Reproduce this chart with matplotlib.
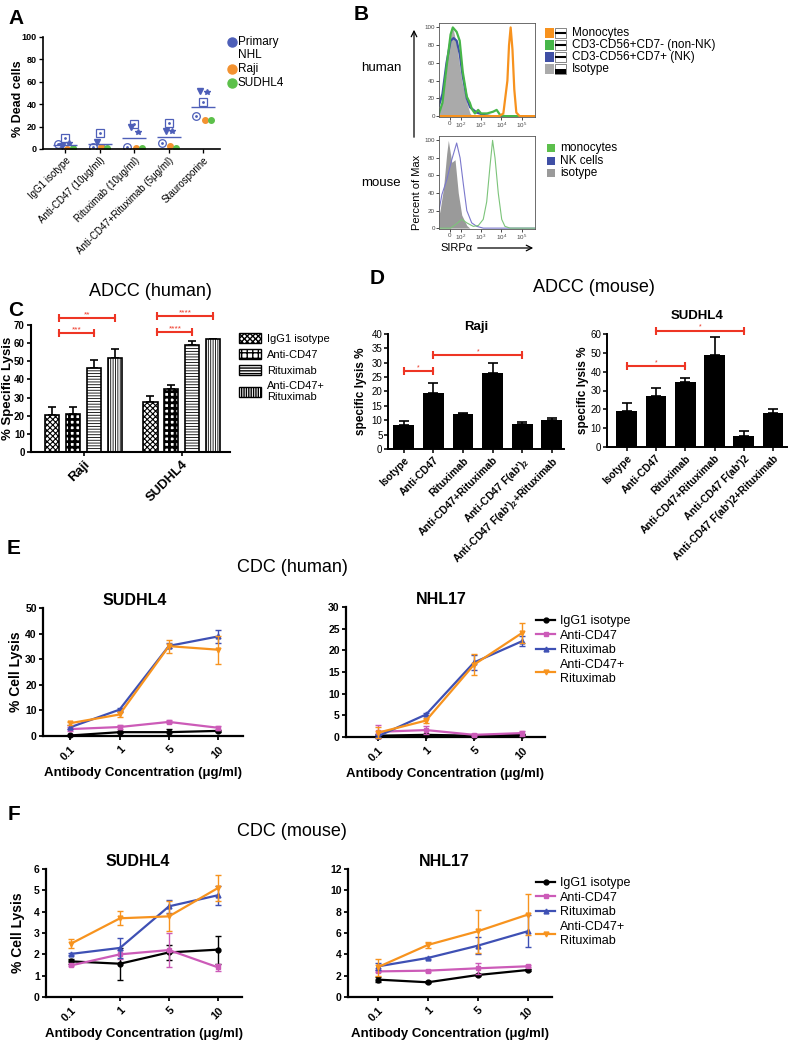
import numpy as np
import matplotlib
matplotlib.use('Agg')
import matplotlib.pyplot as plt
from matplotlib.patches import Rectangle
from matplotlib.lines import Line2D

plt.rcParams['font.family'] = ['Liberation Sans', 'DejaVu Sans']
plt.rcParams['mathtext.default'] = 'regular'

W, H = 794, 1050

# ---------------- data ----------------
# A: % dead cells
a_treatments = ['IgG1 isotype', 'Anti-CD47 (10μg/ml)', 'Rituximab (10μg/ml)',
                'Anti-CD47+Rituximab (5μg/ml)', 'Staurosporine']
a_nhl_square = [9.5, 14.3, 22.0, 23.0, 41.7]
a_nhl_tri = [2.7, 6.0, 20.0, 16.0, 52.0]
a_nhl_star = [5.8, 1.5, 15.0, 16.0, 51.0]
a_nhl_circle = [4.5, 2.0, 2.0, 5.0, 29.7]
a_raji = [0.3, 1.5, 1.2, 2.7, 25.6]
a_sudhl4 = [0.5, 1.0, 1.0, 0.5, 26.2]

# B: SIRPa histograms (x in logicle decades, y in % of max)
b_ticks = [1.47, 2, 3, 4, 5]
b_ticklabels = ['0', '$10^2$', '$10^3$', '$10^4$', '$10^5$']
hum_iso_x = [0.93, 0.98, 1.23, 1.47, 1.61, 1.80, 2.05, 2.30, 2.46, 2.6]
hum_iso_y = [5, 6, 40, 90, 100, 80, 40, 15, 3, 0]
hum_nk_x = [0.93, 1.1, 1.3, 1.5, 1.65, 1.8, 1.95, 2.1, 2.3, 2.46, 2.79, 3.2, 3.5, 5.66]
hum_nk_y = [12, 25, 60, 85, 88, 85, 70, 45, 20, 10, 4, 1, 0, 0]
hum_nonnk_x = [0.93, 1.1, 1.3, 1.5, 1.61, 1.8, 1.95, 2.1, 2.3, 2.45, 2.55, 2.7, 2.86,
               3.0, 3.3, 3.6, 3.77, 3.95, 4.2, 5.66]
hum_nonnk_y = [3, 15, 55, 92, 100, 95, 85, 50, 22, 15, 8, 3, 7, 3, 3, 5, 7, 1, 0, 0]
hum_mono_x = [0.93, 3.9, 4.1, 4.3, 4.38, 4.46, 4.55, 4.64, 4.74, 4.9, 5.66]
hum_mono_y = [0, 0, 3, 40, 80, 100, 75, 30, 4, 0, 0]
mou_iso_x = [0.93, 0.98, 1.15, 1.31, 1.39, 1.56, 1.72, 1.88, 2.05, 2.3, 2.45]
mou_iso_y = [15, 20, 45, 85, 100, 75, 78, 40, 15, 3, 0]
mou_nk_x = [0.93, 1.07, 1.31, 1.56, 1.80, 1.97, 2.13, 2.30, 2.54, 2.79, 3.11, 5.66]
mou_nk_y = [20, 38, 55, 78, 97, 80, 50, 20, 6, 2, 0, 0]
mou_mono_x = [0.93, 1.5, 1.8, 2.05, 2.3, 2.62, 2.87, 3.11, 3.28, 3.44, 3.57, 3.69,
              3.85, 4.02, 4.18, 4.43, 5.66]
mou_mono_y = [0, 0, 5, 10, 6, 2, 3, 10, 30, 70, 100, 80, 40, 10, 2, 0, 0]

# C: ADCC human
c_lines = ['Raji', 'SUDHL4']
c_treat = ['IgG1 isotype', 'Anti-CD47', 'Rituximab', 'Anti-CD47+\nRituximab']
c_mean = [[20.6, 21.0, 46.4, 51.6], [27.6, 34.8, 58.9, 62.2]]
c_err = [[4.3, 3.9, 4.1, 5.1], [3.3, 2.4, 2.1, 0.3]]
c_sig = [(0, 0, 3, 73.8, '**'), (0, 0, 2, 65.6, '***'),
         (1, 0, 3, 74.8, '****'), (1, 0, 2, 66.1, '****')]

# D: ADCC mouse
d_raji_labels = ['Isotype', 'Anti-CD47', 'Rituximab', 'Anti-CD47+Rituximab',
                 "Anti-CD47 F(ab')$_2$", "Anti-CD47 F(ab')$_2$+Rituximab"]
d_raji_mean = [8.2, 19.4, 12.2, 26.5, 8.7, 10.1]
d_raji_err = [1.5, 3.7, 0.4, 3.3, 0.8, 0.6]
d_raji_sig = [(0, 1, 27.1), (1, 4, 32.7)]
d_sud_labels = ['Isotype', 'Anti-CD47', 'Rituximab', 'Anti-CD47+Rituximab',
                "Anti-CD47 F(ab')2", "Anti-CD47 F(ab')2+Rituximab"]
d_sud_mean = [19.3, 27.1, 34.5, 48.9, 5.8, 17.9]
d_sud_err = [3.9, 4.1, 2.0, 9.3, 2.9, 2.4]
d_sud_sig = [(0, 2, 43.0), (1, 4, 61.8)]

# E / F: CDC
conc_labels = ['0.1', '1', '5', '10']
cdc_names = ['IgG1 isotype', 'Anti-CD47', 'Rituximab', 'Anti-CD47+\nRituximab']
e_sud = [[0.2, 1.5, 1.5, 2.0], [2.7, 3.5, 5.5, 3.2], [3.4, 10.3, 35.2, 38.9], [5.0, 8.4, 35.1, 33.7]]
e_sud_err = [[0.3, 0.5, 1.2, 0.5], [0.8, 0.8, 0.6, 0.9], [0.8, 0.5, 1.0, 2.5], [0.6, 1.0, 2.5, 5.5]]
e_nhl = [[0.3, 0.5, 0.3, 0.5], [1.2, 1.6, 0.5, 0.9], [0.2, 5.2, 17.2, 22.1], [1.0, 3.8, 16.7, 24.0]]
e_nhl_err = [[0.3, 0.3, 0.3, 0.3], [1.5, 1.0, 0.3, 0.6], [0.3, 0.4, 1.7, 1.2], [1.3, 0.5, 2.5, 2.3]]
f_sud = [[1.67, 1.56, 2.09, 2.22], [1.48, 2.0, 2.2, 1.39], [2.02, 2.3, 4.25, 4.77], [2.5, 3.69, 3.78, 5.11]]
f_sud_err = [[0.1, 0.75, 0.35, 0.65], [0.05, 0.2, 0.8, 0.15], [0.05, 0.45, 0.3, 0.45], [0.2, 0.33, 0.7, 0.6]]
f_nhl = [[1.63, 1.38, 2.06, 2.53], [2.4, 2.47, 2.69, 2.88], [2.87, 3.66, 4.81, 6.16], [2.8, 4.88, 6.16, 7.72]]
f_nhl_err = [[0.25, 0.1, 0.1, 0.1], [0.1, 0.1, 0.5, 0.1], [0.3, 0.1, 0.8, 1.5], [0.8, 0.3, 2.0, 1.9]]

# ---------------- helpers ----------------
RED = '#ee3524'
BLUE_A = '#4e5fb8'
cdc_colors = ['black', '#cc5bb8', '#3e50b4', '#f7931e']
cdc_markers = ['o', 's', '^', 'v']


def px_axes(left, top, right, bottom):
    return fig.add_axes([left / W, 1 - bottom / H, (right - left) / W, (bottom - top) / H])


def prism(ax, lw=1.5):
    for s in ['top', 'right']:
        ax.spines[s].set_visible(False)
    for s in ['left', 'bottom']:
        ax.spines[s].set_linewidth(lw)
    ax.tick_params(width=lw * 0.8, length=3, pad=1.5)


def bracket(ax, x0, x1, y, label, fs=6):
    ax.plot([x0, x1], [y, y], color=RED, lw=1.5, clip_on=False)
    ax.plot([x0, x1], [y, y], '|', color=RED, ms=6, mew=1.5, clip_on=False)
    ax.text((x0 + x1) / 2, y, label, color=RED, fontsize=fs, ha='center', va='bottom')


fig = plt.figure(figsize=(W / 100, H / 100), dpi=100)

# ---------------- A ----------------
axA = px_axes(43, 37, 220, 149)
xa = np.arange(len(a_treatments))
axA.plot(xa - 0.2, a_nhl_circle, 'o', ms=5.5, mfc='none', mec=BLUE_A, mew=0.9)
axA.plot(xa - 0.2, a_nhl_circle, '.', ms=2, color=BLUE_A)
axA.plot(xa, a_nhl_square, 's', ms=5.5, mfc='none', mec=BLUE_A, mew=0.9)
axA.plot(xa, a_nhl_square, '.', ms=2, color=BLUE_A)
axA.plot(xa - 0.08, a_nhl_tri, 'v', ms=4, color=BLUE_A)
axA.plot(xa + 0.1, a_nhl_star, '*', ms=4, color=BLUE_A)
axA.plot(xa + 0.05, a_raji, 'o', ms=4, color='#f39230')
axA.plot(xa + 0.22, a_sudhl4, 'o', ms=4, color='#5cc04a')
a_all = np.array([a_nhl_square, a_nhl_tri, a_nhl_star, a_nhl_circle, a_raji, a_sudhl4])
axA.hlines(a_all.mean(axis=0), xa - 0.35, xa + 0.35, color=BLUE_A, lw=1)
axA.set_xlim(-0.64, 4.49)
axA.set_ylim(0, 100)
axA.set_yticks(range(0, 101, 20))
axA.set_xticks(xa)
axA.set_xticklabels(a_treatments, rotation=45, ha='right', rotation_mode='anchor', fontsize=7)
for t in axA.get_yticklabels():
    t.set_fontweight('bold')
    t.set_fontsize(6.5)
axA.set_ylabel('% Dead cells', fontweight='bold', fontsize=9)
axA.yaxis.set_label_coords(-0.11, 0.45)
prism(axA, 1.2)

# ---------------- B ----------------
def flow_axes(top, bottom):
    ax = px_axes(439, top, 535, bottom)
    ax.set_xlim(0.93, 5.66)
    ax.set_ylim(-1, 105)
    ax.set_xticks(b_ticks)
    ax.set_xticklabels(b_ticklabels, fontsize=4.5, color='#444')
    ax.set_yticks(range(0, 101, 20))
    ax.tick_params(labelsize=4.5, labelcolor='#444', length=2, width=0.5, pad=1)
    for s in ax.spines.values():
        s.set_linewidth(0.6)
        s.set_color('#555')
    return ax


axBh = flow_axes(23, 117)
axBh.fill_between(hum_iso_x, hum_iso_y, 0, color='#aaaaaa', lw=0)
axBh.plot(hum_nk_x, hum_nk_y, color='#3f4fa5', lw=1.6)
axBh.plot(hum_nonnk_x, hum_nonnk_y, color='#47b649', lw=1.6)
axBh.plot(hum_mono_x, hum_mono_y, color='#f7921e', lw=1.6)

axBm = flow_axes(136, 229)
axBm.fill_between(mou_iso_x, mou_iso_y, 0, color='#9a9a9a', lw=0)
axBm.plot(mou_nk_x, mou_nk_y, color='#7b78cc', lw=0.8)
axBm.plot(mou_mono_x, mou_mono_y, color='#7cc47a', lw=0.8)

# ---------------- C ----------------
axC = px_axes(31, 325, 230, 452)
xc = np.arange(len(c_lines))
c_hatch = ['xxxxxx', '+++', '------', '|||||||']
c_hlw = [0.8, 2.0, 0.6, 0.6]
c_mean_arr = np.array(c_mean)
c_err_arr = np.array(c_err)
c_handles = []
for j in range(len(c_treat)):
    plt.rcParams['hatch.linewidth'] = c_hlw[j]
    xs = xc + (j - 1.5) * 0.214
    bars = axC.bar(xs, c_mean_arr[:, j], width=0.143, facecolor='white', edgecolor='black',
                   hatch=c_hatch[j], lw=1.2, zorder=2)
    for b in bars:
        if hasattr(b, 'set_hatch_linewidth'):
            b.set_hatch_linewidth(c_hlw[j])
    axC.errorbar(xs, c_mean_arr[:, j], yerr=[np.zeros(len(xs)), c_err_arr[:, j]], fmt='none',
                 ecolor='black', elinewidth=1.2, capsize=3, capthick=1.2, zorder=1)
    h = Rectangle((0, 0), 1, 1, facecolor='white', edgecolor='black', hatch=c_hatch[j], lw=1)
    if hasattr(h, 'set_hatch_linewidth'):
        h.set_hatch_linewidth(c_hlw[j])
    c_handles.append(h)
plt.rcParams['hatch.linewidth'] = 1.0
for g, i, j, y, lab in c_sig:
    bracket(axC, g + (i - 1.5) * 0.214 + 0.07, g + (j - 1.5) * 0.214, y, lab)
axC.set_xlim(-0.54, 1.49)
axC.set_ylim(0, 70)
axC.set_yticks(range(0, 71, 10))
axC.set_xticks(xc)
axC.set_xticklabels(c_lines, rotation=45, ha='right', rotation_mode='anchor',
                    fontsize=9.5, fontweight='bold')
for t in axC.get_yticklabels():
    t.set_fontweight('bold')
    t.set_fontsize(7)
axC.set_ylabel('% Specific Lysis', fontweight='bold', fontsize=9.5)
axC.yaxis.set_label_coords(-0.085, 0.5)
prism(axC)
axC.legend(c_handles, c_treat, loc='upper left', bbox_to_anchor=(233 / W, 1 - 327 / H),
           bbox_transform=fig.transFigure, frameon=False, fontsize=8, handlelength=2.0,
           handleheight=1.1, labelspacing=0.45, handletextpad=0.6, borderpad=0)

# ---------------- D ----------------
def adcc_mouse(ax, labels, mean, err, sig, ylim, ystep, title, pad, labx):
    x = np.arange(len(labels))
    ax.bar(x, mean, width=0.71, color='black', zorder=2)
    ax.errorbar(x, mean, yerr=[np.zeros(len(x)), err], fmt='none', ecolor='black',
                elinewidth=1.2, capsize=3.5, capthick=1.2, zorder=1)
    for i, j, y in sig:
        bracket(ax, x[i], x[j], y, '*', fs=5)
    ax.set_ylim(0, ylim)
    ax.set_yticks(range(0, ylim + 1, ystep))
    ax.set_xticks(x)
    ax.set_xticklabels(labels, rotation=45, ha='right', rotation_mode='anchor',
                       fontsize=7.5, fontweight='bold')
    prism(ax, 1.4)
    ax.tick_params(axis='y', labelsize=7, pad=1)
    ax.set_ylabel('specific lysis %', fontweight='bold', fontsize=8.5)
    ax.yaxis.set_label_coords(labx, 0.5)
    ax.set_title(title, fontweight='bold', fontsize=9.5, pad=pad)


axDr = px_axes(388, 334, 564, 449)
adcc_mouse(axDr, d_raji_labels, d_raji_mean, d_raji_err, d_raji_sig, 40, 5, 'Raji', 3, -0.12)
axDr.set_xlim(-0.54, 5.42)
axDs = px_axes(607, 334, 787, 447)
adcc_mouse(axDs, d_sud_labels, d_sud_mean, d_sud_err, d_sud_sig, 60, 10, 'SUDHL4', 11, -0.1)
axDs.set_xlim(-0.68, 5.48)

# ---------------- E / F ----------------
def cdc(ax, vals, errs, ymax, ystep, xlim, title, tx, tpad, ylabel_x):
    x = np.arange(len(conc_labels))
    for k in range(len(vals)):
        ax.errorbar(x, vals[k], yerr=errs[k], color=cdc_colors[k], marker=cdc_markers[k],
                    ms=3.5, lw=1.6, elinewidth=1, capsize=2.5, capthick=1, clip_on=False, zorder=3 + k)
    ax.set_xlim(*xlim)
    ax.set_ylim(0, ymax)
    ax.set_yticks(np.arange(0, ymax + 0.001, ystep))
    ax.set_xticks(x)
    ax.set_xticklabels(conc_labels, rotation=45, ha='right', rotation_mode='anchor',
                       fontsize=8, fontweight='bold')
    for t in ax.get_yticklabels():
        t.set_fontweight('bold')
        t.set_fontsize(7.5)
    prism(ax, 1.6)
    ax.tick_params(axis='x', pad=3)
    ax.set_xlabel('Antibody Concentration (μg/ml)', fontweight='bold', fontsize=9.5, labelpad=3)
    if ylabel_x is not None:
        ax.set_ylabel('% Cell Lysis', fontweight='bold', fontsize=10)
        ax.yaxis.set_label_coords(ylabel_x, 0.5)
    ax.set_title(title, fontweight='bold', fontsize=11.5, x=tx, pad=tpad)


def cdc_legend(ax, top):
    handles = [Line2D([], [], color=cdc_colors[k], marker=cdc_markers[k], ms=3.5, lw=1.6)
               for k in range(len(cdc_names))]
    ax.legend(handles, cdc_names, loc='upper left', bbox_to_anchor=(530 / W, 1 - top / H),
              bbox_transform=fig.transFigure, frameon=False, fontsize=9, handlelength=1.5,
              handletextpad=0.4, labelspacing=0.2, borderpad=0)


axEs = px_axes(43, 608, 243, 736)
cdc(axEs, e_sud, e_sud_err, 50, 10, (-0.55, 3.5), 'SUDHL4', 0.46, 1, -0.1)
axEn = px_axes(346, 607, 545, 737)
cdc(axEn, e_nhl, e_nhl_err, 30, 5, (-0.67, 3.48), 'NHL17', 0.48, 1, None)
cdc_legend(axEn, 609)

axFs = px_axes(46, 869, 242, 997)
cdc(axFs, f_sud, f_sud_err, 6, 1, (-0.51, 3.49), 'SUDHL4', 0.47, -3, -0.107)
axFn = px_axes(348, 869, 552, 997)
cdc(axFn, f_nhl, f_nhl_err, 12, 2, (-0.6, 3.49), 'NHL17', 0.47, -3, None)
cdc_legend(axFn, 871)

# ---------------- overlay: letters, titles, odd legends ----------------
ov = fig.add_axes([0, 0, 1, 1])
ov.set_xlim(0, W)
ov.set_ylim(H, 0)
ov.axis('off')
for lab, x, y in [('A', 16, 18), ('B', 361, 15), ('C', 16, 310), ('D', 377, 279),
                  ('E', 14, 549), ('F', 14, 814)]:
    ov.text(x, y, lab, fontsize=15, fontweight='bold', ha='center', va='center')
for lab, x, y in [('ADCC (human)', 150, 292), ('ADCC (mouse)', 594, 287),
                  ('CDC (human)', 292, 568), ('CDC (mouse)', 292, 832)]:
    ov.text(x, y, lab, fontsize=13, ha='center', va='center')

# A legend
for lab, col, y in [('Primary\nNHL', BLUE_A, 42), ('Raji', '#f39230', 69), ('SUDHL4', '#5cc04a', 83)]:
    ov.plot(232, y, 'o', ms=6.5, color=col)
    ov.text(238, y - 6, lab, fontsize=8.5, va='top', ha='left', linespacing=1.15)

# B labels and legends
ov.text(381, 68, 'human', fontsize=9.5, ha='center', va='center')
ov.text(381, 183, 'mouse', fontsize=9.5, ha='center', va='center')
ov.annotate('', xy=(414, 27), xytext=(414, 140),
            arrowprops=dict(arrowstyle='->', lw=0.9, color='black'))
ov.text(417, 192, 'Percent of Max', fontsize=8, rotation=90, ha='center', va='center')
ov.text(440, 248, 'SIRPα', fontsize=8, ha='left', va='center')
ov.annotate('', xy=(536, 248), xytext=(475, 248),
            arrowprops=dict(arrowstyle='->', lw=0.9, color='black'))
for lab, col, y, iso in [('Monocytes', '#f7921e', 33, False),
                         ('CD3-CD56+CD7- (non-NK)', '#47b649', 45, False),
                         ('CD3-CD56+CD7+ (NK)', '#3f4fa5', 57, False),
                         ('Isotype', '#aaaaaa', 69, True)]:
    ov.add_patch(Rectangle((545, y - 5), 9, 10, color=col, lw=0))
    ov.add_patch(Rectangle((555, y - 5), 11, 10, facecolor='white', edgecolor='#555', lw=0.5))
    if iso:
        ov.add_patch(Rectangle((555, y), 11, 5, color='black', lw=0))
    else:
        ov.plot([556, 565], [y, y], color='black', lw=1.5)
    ov.text(572, y, lab, fontsize=8.5, va='center', ha='left')
for lab, col, y in [('monocytes', '#5cbf4c', 148), ('NK cells', '#3f4fa5', 161),
                    ('isotype', '#9a9a9a', 173)]:
    ov.add_patch(Rectangle((547, y - 4), 8, 8, color=col, lw=0))
    ov.text(560, y, lab, fontsize=8.5, va='center', ha='left')

fig.savefig('out.png', dpi=100)
